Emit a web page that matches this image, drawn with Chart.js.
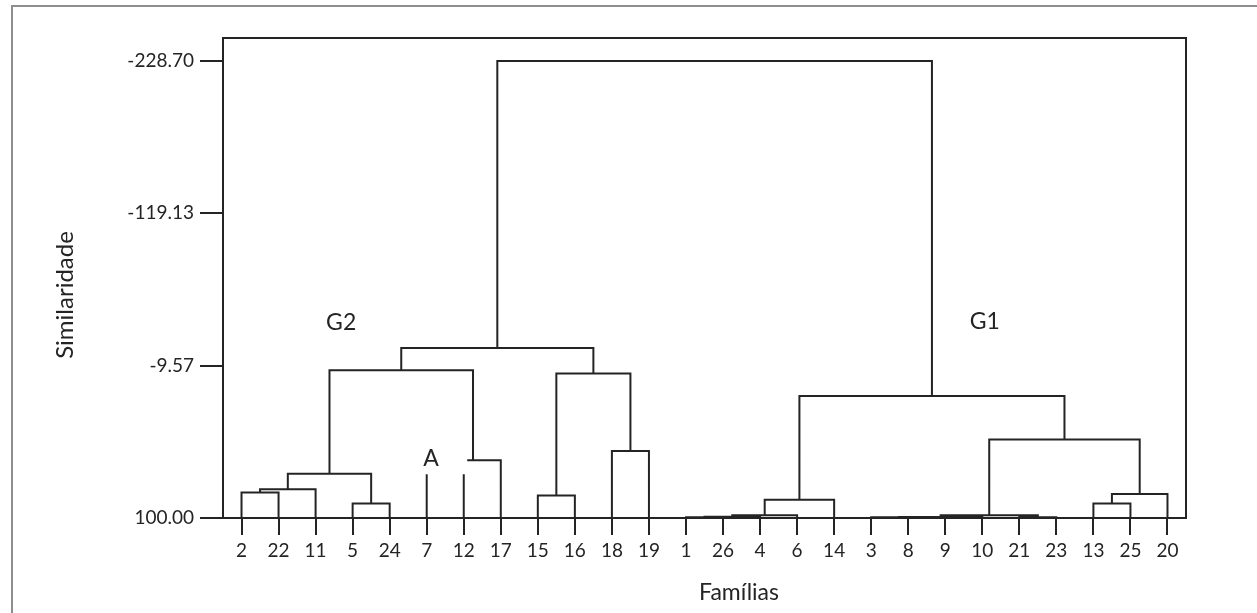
<!DOCTYPE html>
<html>
<head>
<meta charset="utf-8">
<script src="https://cdn.jsdelivr.net/npm/chart.js@4.4.0/dist/chart.umd.min.js"></script>
<style>
  html, body { margin: 0; padding: 0; background: #ffffff; overflow: hidden; }
  #wrap { position: relative; width: 1257px; height: 613px; overflow: hidden; }
  #frame { position: absolute; left: 11px; top: 5px; width: 1320px; height: 700px;
           border: 2px solid #8e8e8e; box-sizing: border-box; }
  #c { position: absolute; left: 0; top: 0; }
</style>
</head>
<body>
<div id="wrap">
  <div id="frame"></div>
  <canvas id="c" width="1257" height="613"></canvas>
</div>
<script>
// ---- DATA ----
// leaf order along the x axis
const leaves = ['2','22','11','5','24','7','12','17','15','16','18','19',
                '1','26','4','6','14','3','8','9','10','21','23','13','25','20'];
// agglomeration steps: ids < 26 are leaves (by position), id 26+k is merge k
const mergeLeft   = [0, 26, 3, 27, 5, 30, 29, 8, 10, 33, 32, 12, 37, 38, 39, 18, 17, 42, 21, 43, 23, 46, 45, 40, 36];
const mergeRight  = [1,  2, 4, 28, 6,  7, 31, 9, 11, 34, 35, 13, 14, 15, 16, 19, 41, 20, 22, 44, 24, 25, 47, 48, 49];
const mergeHeight = [81.7, 79.4, 89.6, 68.1, 69.3, 58.5, -6.2, 83.9, 51.8, -3.9, -22.3,
                     99.5, 99.1, 98.1, 86.8, 99.5, 99.4, 99.3, 99.5, 98.1, 89.6, 82.7, 43.6, 12.2, -228.7];
// similarity tick values shown on the axis
const yTickValues = [-228.70, -119.13, -9.57, 100.00];
// group labels
const groupLabels = ['G2', 'G1', 'A'];
// merge drawn open (no bar) in the picture, and where the following link resumes
const openMerge = 4;
const resumedLinkStart = 6.12;
const baseLevel = 100;

// ---- build line segments through the dendrogram ----
const nodeX = leaves.map((_, i) => i);
const nodeH = leaves.map(() => baseLevel);
const pts = [];
const gap = () => pts.push({ x: NaN, y: null });
for (let k = 0; k < mergeHeight.length; k++) {
  const a = mergeLeft[k], b = mergeRight[k], h = mergeHeight[k];
  const xa = nodeX[a], xb = nodeX[b];
  if (k === openMerge) {
    pts.push({ x: xa, y: nodeH[a] }, { x: xa, y: h }); gap();
    pts.push({ x: xb, y: nodeH[b] }, { x: xb, y: h }); gap();
  } else if (a === 26 + openMerge) {
    pts.push({ x: resumedLinkStart, y: h }, { x: xb, y: h }, { x: xb, y: nodeH[b] }); gap();
  } else {
    pts.push({ x: xa, y: nodeH[a] }, { x: xa, y: h }, { x: xb, y: h }, { x: xb, y: nodeH[b] }); gap();
  }
  nodeX.push((xa + xb) / 2);
  nodeH.push(h);
}

const INK = '#242424';
const FONT = 'Lato';

const decorPlugin = {
  id: 'decor',
  afterDatasetsDraw(chart) {
    const { ctx, chartArea: ca, scales: { x, y } } = chart;
    ctx.save();
    // plot box
    ctx.strokeStyle = INK; ctx.lineWidth = 2;
    ctx.strokeRect(ca.left, ca.top, ca.right - ca.left, ca.bottom - ca.top);
    // group labels
    ctx.fillStyle = INK;
    ctx.textAlign = 'center'; ctx.textBaseline = 'middle';
    ctx.font = '23px ' + FONT;
    const pos = [[2.69, -40.2], [20.07, -41.0], [5.12, 57.6]];
    groupLabels.forEach((t, i) => ctx.fillText(t, x.getPixelForValue(pos[i][0]), y.getPixelForValue(pos[i][1])));
    // axis titles
    ctx.font = '23px ' + FONT;
    ctx.fillText('Famílias', 739, 593);
    ctx.font = '24px ' + FONT;
    ctx.translate(65, 295); ctx.rotate(-Math.PI / 2);
    ctx.fillText('Similaridade', 0, 0);
    ctx.restore();
  }
};

function build() {
  new Chart(document.getElementById('c'), {
    type: 'scatter',
    data: {
      datasets: [{
        data: pts,
        showLine: true,
        spanGaps: false,
        borderColor: INK,
        borderWidth: 2,
        pointRadius: 0,
        pointHoverRadius: 0,
        tension: 0,
        borderJoinStyle: 'miter',
        borderCapStyle: 'square'
      }]
    },
    options: {
      responsive: false,
      animation: false,
      devicePixelRatio: 1,
      layout: { padding: { top: 38, right: 71, bottom: 0, left: 0 } },
      plugins: { legend: { display: false }, tooltip: { enabled: false } },
      scales: {
        x: {
          type: 'linear', min: -0.5, max: 25.5,
          afterBuildTicks: s => { s.ticks = leaves.map((_, i) => ({ value: i })); },
          afterFit: s => { s.height = 95; },
          ticks: { autoSkip: false, maxRotation: 0, padding: 4, color: INK,
                   font: { family: FONT, size: 19 },
                   callback: (v, i) => leaves[i] },
          grid: { drawOnChartArea: false, drawTicks: true, tickLength: 17, color: INK, lineWidth: 2 },
          border: { display: true, color: INK, width: 2 }
        },
        y: {
          type: 'linear', reverse: true, min: -245.2, max: 100,
          afterBuildTicks: s => { s.ticks = yTickValues.map(v => ({ value: v })); },
          afterFit: s => { s.width = 223; },
          ticks: { autoSkip: false, padding: 6, color: INK,
                   font: { family: FONT, size: 19 },
                   callback: v => Number(v).toFixed(2) },
          grid: { drawOnChartArea: false, drawTicks: true, tickLength: 23, color: INK, lineWidth: 2 },
          border: { display: true, color: INK, width: 2 }
        }
      }
    },
    plugins: [decorPlugin]
  });
}

if (document.fonts && document.fonts.load) {
  Promise.all([document.fonts.load('19px Lato'), document.fonts.load('24px Lato')]).then(build, build);
} else { build(); }
</script>
</body>
</html>
